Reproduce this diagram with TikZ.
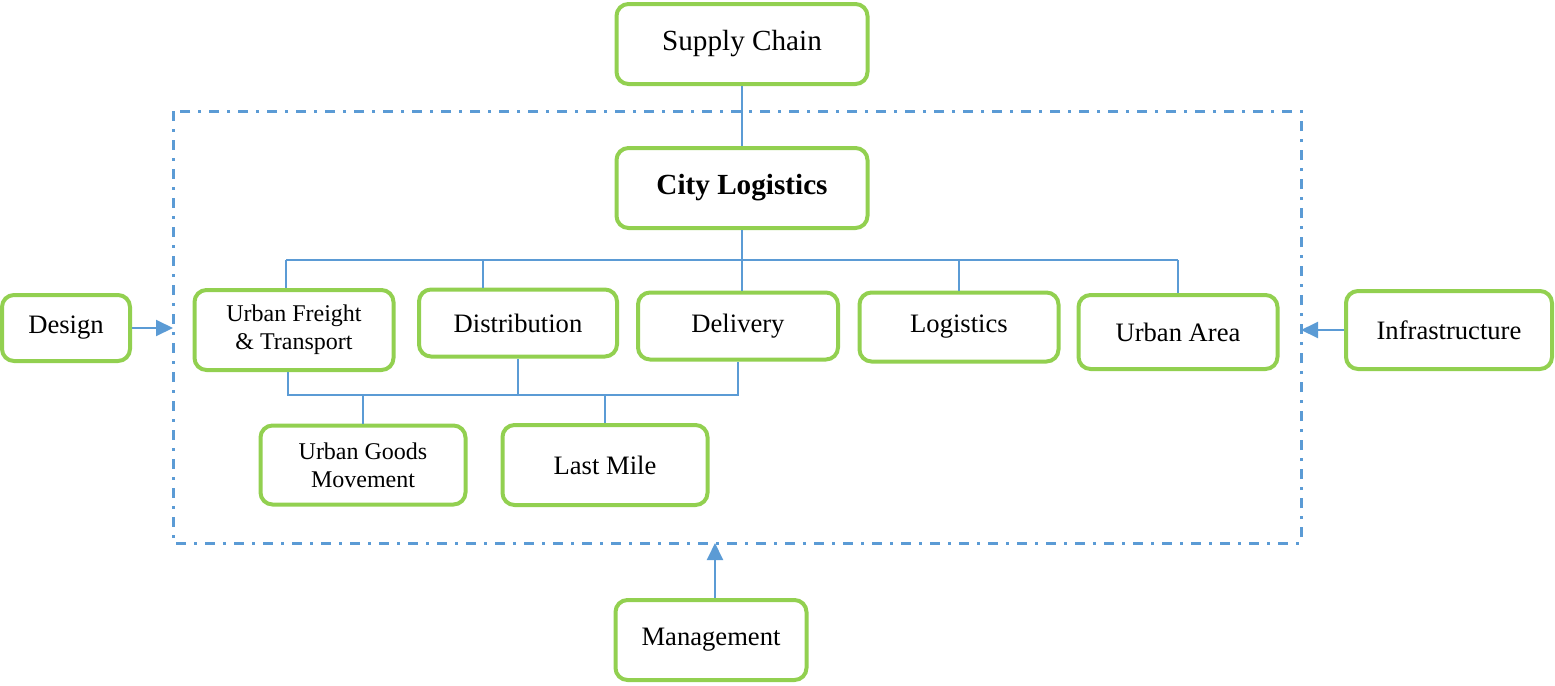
\documentclass[tikz,border=0pt]{standalone}
\usepackage{fontspec}
\setmainfont{Liberation Serif}
\usetikzlibrary{arrows.meta}
\definecolor{boxgreen}{RGB}{146,208,80}
\definecolor{lineblue}{RGB}{91,155,213}
\tikzset{
	node_box/.style = {
		align=center,
		rectangle,
		rounded corners=6pt,
		draw=boxgreen,
		line width=2pt,
		inner sep=0pt,
		font=\fontsize{13.3pt}{16pt}\selectfont
	},
	node_small/.style = {
		node_box,
		font=\fontsize{12pt}{14pt}\selectfont
	},
	node_big/.style = {
		node_box,
		font=\fontsize{14.6pt}{17pt}\selectfont
	},
	link/.style = {
		draw=lineblue,
		line width=0.75pt
	},
	link_arrow/.style = {
		draw=lineblue,
		line width=1pt,
		-{Triangle[length=8.5pt,width=8pt]},
		fill=lineblue
	},
	frame/.style = {
		draw=lineblue,
		line width=1.5pt,
		dash pattern=on 5pt off 4pt on 1.5pt off 4pt
	}
}
\begin{document}
\begin{tikzpicture}[x=0.5pt,y=-0.5pt]
\useasboundingbox (0,0) rectangle (1555,686);
% outer frame
\draw [frame] (173,111) rectangle (1301,543);
% boxes
\node [node_big, minimum width=125.5pt, minimum height=40pt] (supply) at (742,44) {Supply Chain};
\node [node_big, minimum width=125.5pt, minimum height=40pt] (city) at (742,188) {\bfseries City Logistics};
\node [node_small, minimum width=99.5pt, minimum height=40pt] (ufreight) at (294,330) {Urban Freight\\\& Transport};
\node [node_box, minimum width=99pt, minimum height=33.5pt] (distrib) at (518,323) {Distribution};
\node [node_box, minimum width=100pt, minimum height=33.5pt] (delivery) at (738,326) {Delivery};
\node [node_box, minimum width=99.5pt, minimum height=34.5pt] (logist) at (959,327) {Logistics};
\node [node_box, minimum width=99.5pt, minimum height=37pt] (uarea) at (1178,332) {Urban Area};
\node [node_small, minimum width=102.5pt, minimum height=39.5pt] (ugoods) at (363,465) {Urban Goods\\Movement};
\node [node_box, minimum width=102.5pt, minimum height=40pt] (lastmile) at (605,465) {Last Mile};
\node [node_box, minimum width=64pt, minimum height=33pt] (design) at (66,328) {Design};
\node [node_box, minimum width=103pt, minimum height=39pt] (infra) at (1449,330) {Infrastructure};
\node [node_box, minimum width=95.5pt, minimum height=40pt] (mgmt) at (711,640) {Management};
% top tree
\coordinate (busL) at (286,260);
\coordinate (busR) at (1178,260);
\draw [link] (supply) -- (city);
\draw [link] (city.south) -- (city.south |- busL);
\draw [link] (busL) -- (busR);
\draw [link] (busL) -- (busL |- ufreight.north);
\draw [link] ([xshift=-17.5pt]distrib.north |- busL) -- ([xshift=-17.5pt]distrib.north);
\draw [link] (city.south |- busL) -- (city.south |- delivery.north);
\draw [link] (logist.north |- busL) -- (logist.north);
\draw [link] (busR) -- (uarea.north);
% lower tree
\coordinate (lowL) at (288,395);
\coordinate (lowR) at (738,395);
\draw [link] (lowL |- ufreight.south) -- (lowL) -- (lowR) -- (delivery.south);
\draw [link] (distrib.south) -- (distrib.south |- lowL);
\draw [link] (ugoods.north |- lowL) -- (ugoods.north);
\draw [link] (lastmile.north |- lowL) -- (lastmile.north);
% arrows into the frame
\draw [link_arrow] (design.east) -- (173,328);
\draw [link_arrow] (infra.west) -- (1301,330);
\draw [link_arrow] ([xshift=2pt]mgmt.north) -- ([xshift=2pt]mgmt.north |- 0,543);
\end{tikzpicture}
\end{document}
